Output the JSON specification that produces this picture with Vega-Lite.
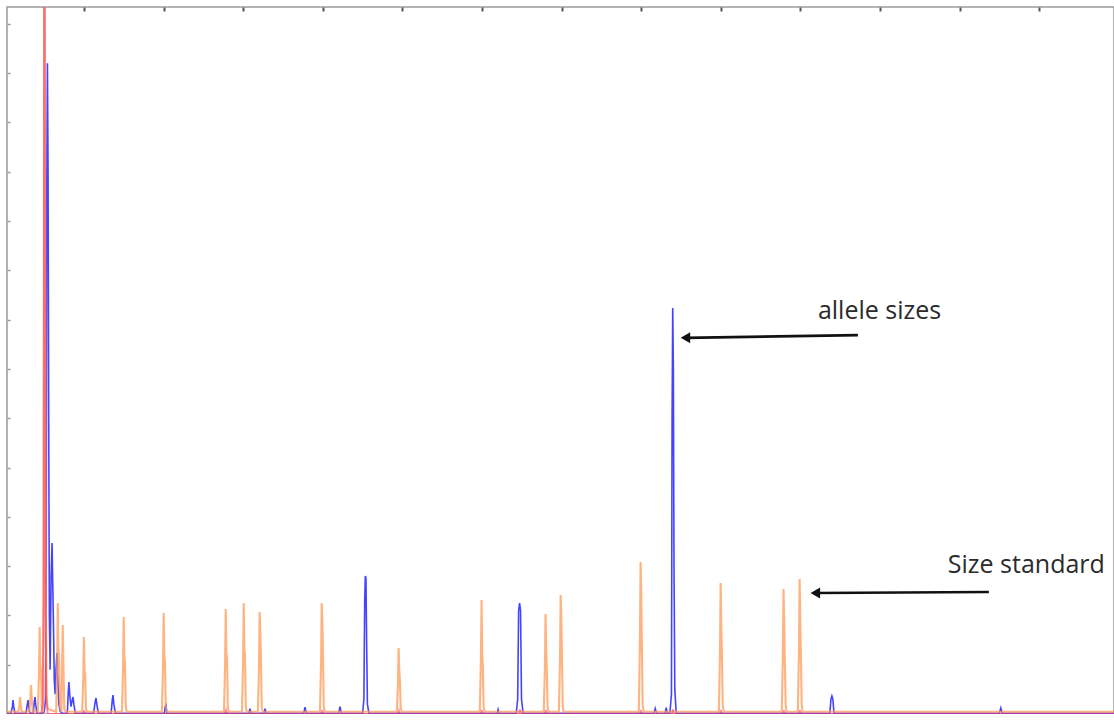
{
  "$schema": "https://vega.github.io/schema/vega-lite/v6.json",
  "width": 1107,
  "height": 707,
  "autosize": {"type": "none"},
  "padding": {"left": 7, "top": 7, "right": 0, "bottom": 0},
  "background": "white",
  "config": {
    "view": {"stroke": "#9a9a9a", "strokeWidth": 1.5},
    "axis": {"labels": false, "domain": false, "grid": false, "ticks": true, "title": null}
  },
  "datasets": {
    "blue": [
      {"x": 16, "y": 15}, {"x": 40, "y": 15}, {"x": 50, "y": 150}, {"x": 54, "y": 284}, {"x": 58, "y": 150}, {"x": 66, "y": 15},
      {"x": 135, "y": 15}, {"x": 144, "y": 200}, {"x": 148, "y": 284}, {"x": 152, "y": 150}, {"x": 160, "y": 15},
      {"x": 180, "y": 15}, {"x": 188, "y": 250}, {"x": 192, "y": 345}, {"x": 196, "y": 200}, {"x": 204, "y": 15},
      {"x": 235, "y": 15}, {"x": 250, "y": 40}, {"x": 258, "y": 300}, {"x": 262, "y": 2000}, {"x": 266, "y": 10768}, {"x": 270, "y": 13202}, {"x": 274, "y": 11000}, {"x": 278, "y": 6000}, {"x": 282, "y": 2000}, {"x": 287, "y": 900}, {"x": 293, "y": 2800}, {"x": 299, "y": 3468}, {"x": 303, "y": 2700}, {"x": 308, "y": 1800}, {"x": 313, "y": 700}, {"x": 318, "y": 400}, {"x": 324, "y": 900}, {"x": 330, "y": 1237}, {"x": 335, "y": 700}, {"x": 342, "y": 200}, {"x": 350, "y": 60}, {"x": 360, "y": 15},
      {"x": 395, "y": 15}, {"x": 401, "y": 450}, {"x": 405, "y": 649}, {"x": 410, "y": 400}, {"x": 418, "y": 150}, {"x": 424, "y": 250}, {"x": 431, "y": 345}, {"x": 436, "y": 200}, {"x": 445, "y": 15},
      {"x": 560, "y": 15}, {"x": 570, "y": 250}, {"x": 575, "y": 324}, {"x": 580, "y": 200}, {"x": 590, "y": 15},
      {"x": 670, "y": 15}, {"x": 678, "y": 300}, {"x": 682, "y": 385}, {"x": 687, "y": 200}, {"x": 697, "y": 15},
      {"x": 1005, "y": 15}, {"x": 1010, "y": 150}, {"x": 1015, "y": 180}, {"x": 1020, "y": 15},
      {"x": 1535, "y": 15}, {"x": 1542, "y": 110}, {"x": 1549, "y": 15},
      {"x": 1630, "y": 15}, {"x": 1637, "y": 110}, {"x": 1644, "y": 15},
      {"x": 1880, "y": 15}, {"x": 1888, "y": 140}, {"x": 1896, "y": 15},
      {"x": 2100, "y": 15}, {"x": 2108, "y": 150}, {"x": 2116, "y": 15},
      {"x": 2250, "y": 15}, {"x": 2258, "y": 300}, {"x": 2263, "y": 2300}, {"x": 2267, "y": 2799}, {"x": 2271, "y": 2750}, {"x": 2275, "y": 1500}, {"x": 2280, "y": 200}, {"x": 2290, "y": 15},
      {"x": 3095, "y": 15}, {"x": 3101, "y": 90}, {"x": 3107, "y": 15},
      {"x": 3215, "y": 15}, {"x": 3224, "y": 300}, {"x": 3230, "y": 2100}, {"x": 3236, "y": 2251}, {"x": 3242, "y": 2100}, {"x": 3248, "y": 300}, {"x": 3258, "y": 15},
      {"x": 4080, "y": 15}, {"x": 4088, "y": 110}, {"x": 4096, "y": 15},
      {"x": 4150, "y": 15}, {"x": 4157, "y": 130}, {"x": 4164, "y": 15},
      {"x": 4180, "y": 15}, {"x": 4190, "y": 400}, {"x": 4194, "y": 6000}, {"x": 4198, "y": 8234}, {"x": 4202, "y": 7000}, {"x": 4206, "y": 3000}, {"x": 4211, "y": 500}, {"x": 4220, "y": 15},
      {"x": 5185, "y": 15}, {"x": 5192, "y": 300}, {"x": 5198, "y": 365}, {"x": 5204, "y": 300}, {"x": 5211, "y": 15},
      {"x": 6250, "y": 15}, {"x": 6259, "y": 122}, {"x": 6268, "y": 15},
      {"x": 6970, "y": 15}
    ],
    "orange": [
      {"x": 16, "y": 45},
      {"x": 86, "y": 45}, {"x": 94, "y": 160}, {"x": 98, "y": 345}, {"x": 102, "y": 200}, {"x": 108, "y": 45},
      {"x": 155, "y": 45}, {"x": 162, "y": 260}, {"x": 167, "y": 588}, {"x": 171, "y": 330}, {"x": 178, "y": 45},
      {"x": 210, "y": 45}, {"x": 217, "y": 800}, {"x": 221, "y": 1764}, {"x": 225, "y": 1000}, {"x": 229, "y": 900}, {"x": 234, "y": 150}, {"x": 240, "y": 45},
      {"x": 244, "y": 45}, {"x": 248, "y": 9000}, {"x": 251, "y": 16000}, {"x": 255, "y": 12000}, {"x": 259, "y": 3000}, {"x": 264, "y": 400}, {"x": 272, "y": 100},
      {"x": 325, "y": 45}, {"x": 331, "y": 1000}, {"x": 335, "y": 2251}, {"x": 339, "y": 1300}, {"x": 343, "y": 1200}, {"x": 349, "y": 150}, {"x": 358, "y": 45},
      {"x": 362, "y": 900}, {"x": 366, "y": 1805}, {"x": 370, "y": 1100}, {"x": 376, "y": 100}, {"x": 384, "y": 45},
      {"x": 488, "y": 45}, {"x": 495, "y": 700}, {"x": 499, "y": 1562}, {"x": 503, "y": 900}, {"x": 507, "y": 800}, {"x": 512, "y": 120}, {"x": 518, "y": 45},
      {"x": 738, "y": 45}, {"x": 745, "y": 900}, {"x": 749, "y": 1967}, {"x": 753, "y": 1150}, {"x": 757, "y": 1050}, {"x": 762, "y": 150}, {"x": 768, "y": 45},
      {"x": 989, "y": 45}, {"x": 996, "y": 950}, {"x": 1000, "y": 2048}, {"x": 1004, "y": 1200}, {"x": 1008, "y": 1100}, {"x": 1013, "y": 150}, {"x": 1019, "y": 45},
      {"x": 1379, "y": 45}, {"x": 1386, "y": 1000}, {"x": 1390, "y": 2129}, {"x": 1394, "y": 1250}, {"x": 1398, "y": 1150}, {"x": 1403, "y": 150}, {"x": 1409, "y": 45},
      {"x": 1492, "y": 45}, {"x": 1499, "y": 1050}, {"x": 1503, "y": 2251}, {"x": 1507, "y": 1300}, {"x": 1511, "y": 1200}, {"x": 1516, "y": 150}, {"x": 1522, "y": 45},
      {"x": 1592, "y": 45}, {"x": 1599, "y": 950}, {"x": 1603, "y": 2069}, {"x": 1607, "y": 1700}, {"x": 1611, "y": 1200}, {"x": 1616, "y": 150}, {"x": 1622, "y": 45},
      {"x": 1982, "y": 45}, {"x": 1989, "y": 1050}, {"x": 1993, "y": 2251}, {"x": 1997, "y": 1900}, {"x": 2001, "y": 1200}, {"x": 2006, "y": 150}, {"x": 2012, "y": 45},
      {"x": 2465, "y": 45}, {"x": 2472, "y": 600}, {"x": 2476, "y": 1338}, {"x": 2480, "y": 900}, {"x": 2484, "y": 700}, {"x": 2489, "y": 120}, {"x": 2495, "y": 45},
      {"x": 2986, "y": 45}, {"x": 2993, "y": 1100}, {"x": 2997, "y": 2312}, {"x": 3001, "y": 1200}, {"x": 3005, "y": 1000}, {"x": 3010, "y": 150}, {"x": 3016, "y": 45},
      {"x": 3388, "y": 45}, {"x": 3395, "y": 950}, {"x": 3399, "y": 2028}, {"x": 3403, "y": 1300}, {"x": 3407, "y": 900}, {"x": 3412, "y": 150}, {"x": 3418, "y": 45},
      {"x": 3483, "y": 45}, {"x": 3490, "y": 1150}, {"x": 3494, "y": 2413}, {"x": 3498, "y": 2000}, {"x": 3502, "y": 1200}, {"x": 3507, "y": 150}, {"x": 3513, "y": 45},
      {"x": 3985, "y": 45}, {"x": 3992, "y": 1500}, {"x": 3996, "y": 3083}, {"x": 4000, "y": 2500}, {"x": 4004, "y": 1400}, {"x": 4009, "y": 200}, {"x": 4015, "y": 45},
      {"x": 4488, "y": 45}, {"x": 4495, "y": 1300}, {"x": 4499, "y": 2657}, {"x": 4503, "y": 1800}, {"x": 4507, "y": 1200}, {"x": 4512, "y": 200}, {"x": 4518, "y": 45},
      {"x": 4883, "y": 45}, {"x": 4890, "y": 1200}, {"x": 4894, "y": 2535}, {"x": 4898, "y": 1900}, {"x": 4902, "y": 1100}, {"x": 4907, "y": 200}, {"x": 4913, "y": 45},
      {"x": 4984, "y": 45}, {"x": 4991, "y": 1300}, {"x": 4995, "y": 2738}, {"x": 4999, "y": 2000}, {"x": 5003, "y": 1200}, {"x": 5008, "y": 200}, {"x": 5014, "y": 45},
      {"x": 6970, "y": 45}
    ],
    "red": [
      {"x": 16, "y": 0}, {"x": 230, "y": 0}, {"x": 240, "y": 200}, {"x": 246, "y": 2500}, {"x": 249, "y": 16000}, {"x": 253, "y": 16000}, {"x": 257, "y": 2000}, {"x": 264, "y": 300}, {"x": 272, "y": 0},
      {"x": 495, "y": 0}, {"x": 500, "y": 80}, {"x": 505, "y": 0},
      {"x": 1385, "y": 0}, {"x": 1392, "y": 80}, {"x": 1399, "y": 0},
      {"x": 1990, "y": 0}, {"x": 1996, "y": 80}, {"x": 2002, "y": 0},
      {"x": 2472, "y": 0}, {"x": 2478, "y": 70}, {"x": 2484, "y": 0},
      {"x": 2993, "y": 0}, {"x": 2999, "y": 80}, {"x": 3005, "y": 0},
      {"x": 3232, "y": 0}, {"x": 3238, "y": 90}, {"x": 3244, "y": 0},
      {"x": 3395, "y": 0}, {"x": 3401, "y": 80}, {"x": 3407, "y": 0},
      {"x": 3992, "y": 0}, {"x": 3998, "y": 80}, {"x": 4004, "y": 0},
      {"x": 4193, "y": 0}, {"x": 4199, "y": 100}, {"x": 4205, "y": 0},
      {"x": 4495, "y": 0}, {"x": 4501, "y": 80}, {"x": 4507, "y": 0},
      {"x": 4890, "y": 0}, {"x": 4896, "y": 80}, {"x": 4902, "y": 0},
      {"x": 4991, "y": 0}, {"x": 4997, "y": 80}, {"x": 5003, "y": 0},
      {"x": 6970, "y": 0}
    ],
    "labels": [
      {"x": 5110, "y": 8173, "label": "allele sizes"},
      {"x": 5926, "y": 3022, "label": "Size standard"}
    ],
    "arrows": [
      {"x": 4278, "x2": 5361, "y": 7630, "y2": 7686},
      {"x": 5094, "x2": 6184, "y": 2454, "y2": 2474}
    ]
  },
  "layer": [
    {
      "data": {"name": "blue"},
      "mark": {"type": "line", "color": "#2323ff", "strokeWidth": 1.6, "opacity": 0.85, "clip": true},
      "encoding": {
        "x": {"field": "x", "type": "quantitative", "scale": {"domain": [16, 6970], "nice": false, "zero": false},
          "axis": {"orient": "top", "values": [500, 1000, 1500, 2000, 2500, 3000, 3500, 4000, 4500, 5000, 5500, 6000, 6500], "tickSize": -4, "tickWidth": 2, "tickColor": "#555"}},
        "y": {"field": "y", "type": "quantitative", "scale": {"domain": [0, 14341], "nice": false},
          "axis": {"orient": "left", "values": [1000, 2000, 3000, 4000, 5000, 6000, 7000, 8000, 9000, 10000, 11000, 12000, 13000, 14000], "tickSize": -3, "tickWidth": 1.5, "tickColor": "#999"}}
      }
    },
    {
      "data": {"name": "orange"},
      "mark": {"type": "line", "color": "#ff9a55", "strokeWidth": 2.1, "opacity": 0.75, "clip": true},
      "encoding": {
        "x": {"field": "x", "type": "quantitative",
          "axis": {"orient": "top", "values": [500, 1000, 1500, 2000, 2500, 3000, 3500, 4000, 4500, 5000, 5500, 6000, 6500], "tickSize": -4, "tickWidth": 2, "tickColor": "#555"}},
        "y": {"field": "y", "type": "quantitative",
          "axis": {"orient": "left", "values": [1000, 2000, 3000, 4000, 5000, 6000, 7000, 8000, 9000, 10000, 11000, 12000, 13000, 14000], "tickSize": -3, "tickWidth": 1.5, "tickColor": "#999"}}
      }
    },
    {
      "data": {"name": "red"},
      "mark": {"type": "line", "color": "#ff3c64", "strokeWidth": 1.8, "opacity": 0.6, "clip": true},
      "encoding": {
        "x": {"field": "x", "type": "quantitative",
          "axis": {"orient": "top", "values": [500, 1000, 1500, 2000, 2500, 3000, 3500, 4000, 4500, 5000, 5500, 6000, 6500], "tickSize": -4, "tickWidth": 2, "tickColor": "#555"}},
        "y": {"field": "y", "type": "quantitative",
          "axis": {"orient": "left", "values": [1000, 2000, 3000, 4000, 5000, 6000, 7000, 8000, 9000, 10000, 11000, 12000, 13000, 14000], "tickSize": -3, "tickWidth": 1.5, "tickColor": "#999"}}
      }
    },
    {
      "data": {"name": "arrows"},
      "mark": {"type": "rule", "color": "#111", "strokeWidth": 2.6},
      "encoding": {
        "x": {"field": "x", "type": "quantitative",
          "axis": {"orient": "top", "values": [500, 1000, 1500, 2000, 2500, 3000, 3500, 4000, 4500, 5000, 5500, 6000, 6500], "tickSize": -4, "tickWidth": 2, "tickColor": "#555"}},
        "x2": {"field": "x2"},
        "y": {"field": "y", "type": "quantitative",
          "axis": {"orient": "left", "values": [1000, 2000, 3000, 4000, 5000, 6000, 7000, 8000, 9000, 10000, 11000, 12000, 13000, 14000], "tickSize": -3, "tickWidth": 1.5, "tickColor": "#999"}},
        "y2": {"field": "y2"}
      }
    },
    {
      "data": {"name": "arrows"},
      "mark": {"type": "point", "shape": "triangle-left", "filled": true, "color": "#111", "size": 120, "opacity": 1},
      "encoding": {
        "x": {"field": "x", "type": "quantitative",
          "axis": {"orient": "top", "values": [500, 1000, 1500, 2000, 2500, 3000, 3500, 4000, 4500, 5000, 5500, 6000, 6500], "tickSize": -4, "tickWidth": 2, "tickColor": "#555"}},
        "y": {"field": "y", "type": "quantitative",
          "axis": {"orient": "left", "values": [1000, 2000, 3000, 4000, 5000, 6000, 7000, 8000, 9000, 10000, 11000, 12000, 13000, 14000], "tickSize": -3, "tickWidth": 1.5, "tickColor": "#999"}}
      }
    },
    {
      "data": {"name": "labels"},
      "mark": {"type": "text", "align": "left", "baseline": "middle", "font": "Open Sans", "fontSize": 25, "color": "#2b2b2b"},
      "encoding": {
        "x": {"field": "x", "type": "quantitative",
          "axis": {"orient": "top", "values": [500, 1000, 1500, 2000, 2500, 3000, 3500, 4000, 4500, 5000, 5500, 6000, 6500], "tickSize": -4, "tickWidth": 2, "tickColor": "#555"}},
        "y": {"field": "y", "type": "quantitative",
          "axis": {"orient": "left", "values": [1000, 2000, 3000, 4000, 5000, 6000, 7000, 8000, 9000, 10000, 11000, 12000, 13000, 14000], "tickSize": -3, "tickWidth": 1.5, "tickColor": "#999"}},
        "text": {"field": "label"}
      }
    }
  ]
}
